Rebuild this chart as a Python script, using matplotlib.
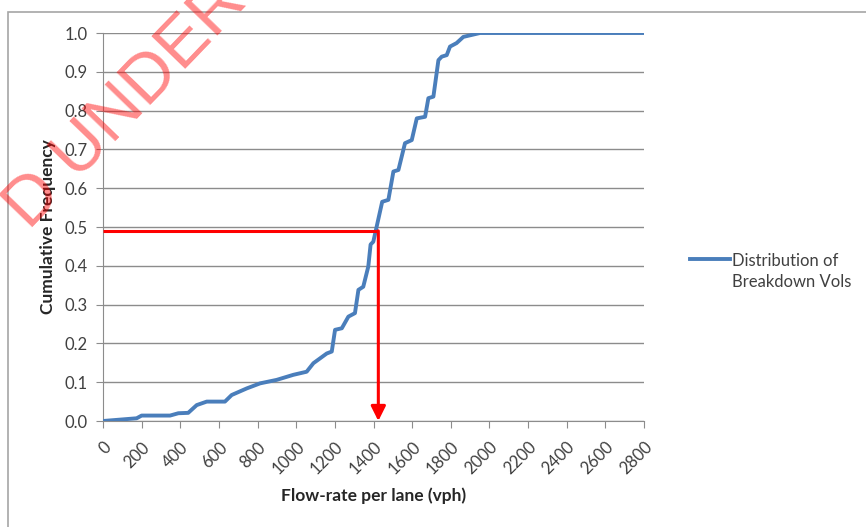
import matplotlib
matplotlib.use('Agg')
import matplotlib.pyplot as plt
from matplotlib.patches import Rectangle
from matplotlib.lines import Line2D

plt.rcParams['font.family'] = ['Lato', 'DejaVu Sans']

# 累积频率曲线
flow = [0, 174, 200, 347, 390, 441, 485, 537, 631, 666, 744, 813, 899, 985,
        1054, 1089, 1158, 1184, 1201, 1236, 1270, 1304, 1322, 1347, 1373,
        1385, 1399, 1445, 1477, 1503, 1529, 1563, 1598, 1624, 1667, 1684,
        1710, 1736, 1753, 1779, 1796, 1830, 1865, 1951, 2800]
cum_freq = [0, 0.007, 0.014, 0.014, 0.02, 0.021, 0.041, 0.05, 0.05, 0.067,
            0.084, 0.097, 0.106, 0.119, 0.127, 0.149, 0.174, 0.179, 0.235,
            0.239, 0.269, 0.278, 0.338, 0.346, 0.398, 0.455, 0.462, 0.565,
            0.57, 0.643, 0.647, 0.716, 0.724, 0.78, 0.784, 0.832, 0.836,
            0.93, 0.939, 0.943, 0.965, 0.974, 0.99, 1.0, 1.0]

# 中位数标记
median_flow = 1425
median_freq = 0.49

x_ticks = list(range(0, 2801, 200))
y_ticks = [i / 10 for i in range(11)]

series_label = 'Distribution of\nBreakdown Vols'

text_color = '#404040'
grid_color = '#8c8c8c'
line_color = '#4a7ebb'

fig = plt.figure(figsize=(8.66, 5.27), dpi=100)
ax = fig.add_axes([103 / 866, 106 / 527, 541 / 866, 388 / 527])

# 外框
fig.add_artist(Rectangle((8 / 866, -0.05), 1.0, 1.05 - 12 / 527, transform=fig.transFigure,
                         fill=False, edgecolor='#a6a6a6', lw=1.2))

ax.plot(flow, cum_freq, color=line_color, lw=2.8, zorder=3, solid_joinstyle='round')

# 红色指示线
ax.plot([0, median_flow], [median_freq, median_freq], color='#ff0000', lw=2.2, zorder=4,
        solid_capstyle='butt')
ax.annotate('', xy=(median_flow, 0), xytext=(median_flow, median_freq),
            arrowprops=dict(arrowstyle='-|>', color='#ff0000', lw=2.2,
                            mutation_scale=22, shrinkA=0, shrinkB=0), zorder=4)

ax.set_xlim(0, 2800)
ax.set_ylim(0, 1.0)
ax.set_xticks(x_ticks)
ax.set_yticks(y_ticks)
ax.set_yticklabels([f'{v:.1f}' for v in y_ticks])
ax.set_xticklabels([str(v) for v in x_ticks], rotation=45, ha='right', rotation_mode='anchor')

ax.grid(axis='y', color=grid_color, lw=1)
ax.set_axisbelow(True)
for side in ['top', 'right']:
    ax.spines[side].set_visible(False)
for side in ['left', 'bottom']:
    ax.spines[side].set_color(grid_color)
ax.tick_params(axis='both', colors=grid_color, labelcolor=text_color, labelsize=12,
               length=5, direction='out')
ax.tick_params(axis='x', pad=8)
ax.tick_params(axis='y', pad=6)

ax.set_xlabel('Flow-rate per lane (vph)', fontsize=12.5, fontweight='bold', color='#262626')
ax.xaxis.set_label_coords(0.5, -0.17)
ax.set_ylabel('Cumulative Frequency', fontsize=12.5, fontweight='bold', color='#262626',
              labelpad=6)

# 图例（手动绘制，线条对齐第一行）
ax.add_artist(Line2D([1.085, 1.159], [0.4175, 0.4175], transform=ax.transAxes,
                     color=line_color, lw=2.8, clip_on=False))
ax.text(1.163, 0.4175 + 6 / 388, series_label, transform=ax.transAxes, fontsize=12,
        color=text_color, ha='left', va='top', linespacing=1.35)

# 水印
fig.text(29 / 866, 1 - 231 / 527, 'D UNDER REVIEW', color='#ff0000', alpha=0.45,
         fontsize=50, rotation=46, rotation_mode='anchor', ha='left', va='baseline',
         family='Liberation Sans')

plt.savefig('out.png', dpi=100)
